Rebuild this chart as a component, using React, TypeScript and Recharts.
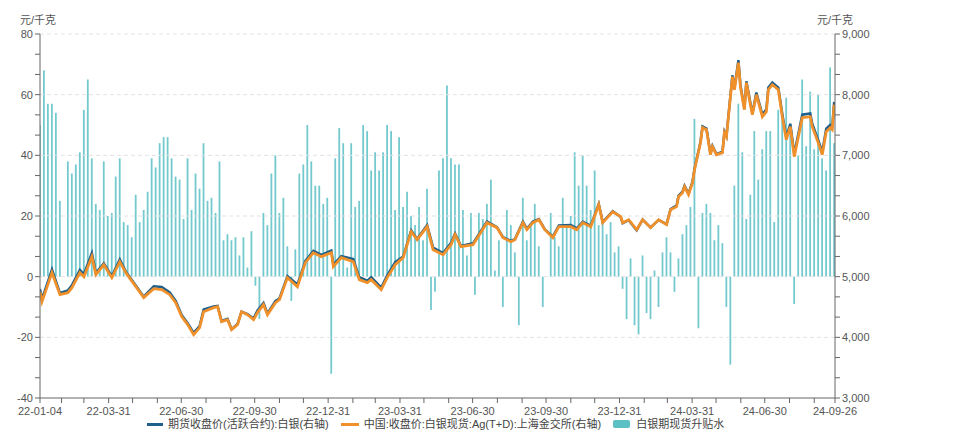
import React from 'react';
import { ComposedChart, Bar, Line, XAxis, YAxis, ReferenceLine } from 'recharts';

// 白银期现货升贴水 (元/千克), one value every 5 calendar days from 2022-01-04
const basisValues = [
  50, 68, 57, 57, 54, 25, 0, 38, 34, 37,
  41, 55, 65, 39, 24, 22, 38, 20, 21, 33,
  39, 18, 17, 13, 27, 18, 22, 28, 39, 36,
  44, 46, 46, 39, 33, 32, 19, 39, 22, 34,
  29, 44, 25, 26, 21, 38, 12, 14, 12, 13,
  7, 13, 3, 15, -3, -14, 21, 17, 34, 40,
  21, 26, 10, -8, 9, 34, 37, 50, 38, 30,
  30, 24, 26, -32, 39, 49, 44, 3, 44, 23,
  25, 50, 48, 35, 41, 35, 41, 50, 48, 22,
  46, 23, 28, 20, 17, 23, 12, 29, -11, -5,
  35, 39, 63, 39, 37, 37, 22, 7, 21, -6,
  21, 19, 24, 32, 2, 12, -10, 22, 17, 8,
  -16, 26, 12, 17, 24, 10, -10, 0, 21, 13,
  10, 26, 17, 20, 41, 30, 40, 30, 22, 35,
  17, 19, 14, 18, 8, 10, -4, -14, 6, -16,
  -19, 7, -12, -14, 2, -10, 8, 13, 8, -5,
  6, 14, 17, 23, 52, -17, 21, 24, 21, 12,
  17, 11, -10, -29, 30, 57, 41, 19, 27, 48,
  32, 42, 48, 48, 18, 55, 54, 59, 50, -9,
  40, 65, 43, 61, 42, 60, 39, 35, 69, 44,
];
const basisStartDate = '2022-01-04';
const basisStepDays = 5;

const lineDates = [
  '2022-01-04', '2022-01-07', '2022-01-20', '2022-01-28', '2022-02-07', '2022-02-14', '2022-02-23', '2022-03-01',
  '2022-03-09', '2022-03-14', '2022-03-24', '2022-04-04', '2022-04-14', '2022-04-22', '2022-05-13', '2022-05-26',
  '2022-06-06', '2022-06-16', '2022-06-24', '2022-07-01', '2022-07-07', '2022-07-15', '2022-07-22', '2022-07-29',
  '2022-08-09', '2022-08-15', '2022-08-19', '2022-08-26', '2022-09-02', '2022-09-08', '2022-09-14', '2022-09-20',
  '2022-09-28', '2022-10-03', '2022-10-10', '2022-10-17', '2022-10-25', '2022-11-01', '2022-11-11', '2022-11-22',
  '2022-12-02', '2022-12-12', '2022-12-23', '2023-01-03', '2023-01-06', '2023-01-16', '2023-01-31', '2023-02-09',
  '2023-02-17', '2023-02-24', '2023-03-08', '2023-03-15', '2023-03-24', '2023-04-03', '2023-04-13', '2023-04-21',
  '2023-05-05', '2023-05-11', '2023-05-24', '2023-06-02', '2023-06-09', '2023-06-16', '2023-06-30', '2023-07-19',
  '2023-07-31', '2023-08-07', '2023-08-16', '2023-08-22', '2023-08-31', '2023-09-07', '2023-09-14', '2023-09-22',
  '2023-09-28', '2023-10-09', '2023-10-17', '2023-10-30', '2023-11-08', '2023-11-15', '2023-11-24', '2023-12-04',
  '2023-12-11', '2023-12-22', '2024-01-02', '2024-01-05', '2024-01-12', '2024-01-22', '2024-01-29', '2024-02-07',
  '2024-02-19', '2024-02-28', '2024-03-05', '2024-03-12', '2024-03-15', '2024-03-19', '2024-03-22', '2024-03-26',
  '2024-04-01', '2024-04-03', '2024-04-10', '2024-04-12', '2024-04-18', '2024-04-22', '2024-04-26', '2024-04-30',
  '2024-05-08', '2024-05-10', '2024-05-14', '2024-05-20', '2024-05-23', '2024-05-24', '2024-05-28', '2024-05-31',
  '2024-06-05', '2024-06-07', '2024-06-11', '2024-06-14', '2024-06-19', '2024-06-26', '2024-07-02', '2024-07-05',
  '2024-07-10', '2024-07-16', '2024-07-22', '2024-07-26', '2024-07-31', '2024-08-05', '2024-08-09', '2024-08-16',
  '2024-08-26', '2024-08-29', '2024-09-04', '2024-09-10', '2024-09-14', '2024-09-19', '2024-09-23', '2024-09-26',
];

// 中国:收盘价:白银现货:Ag(T+D):上海金交所 (元/千克)
const spotValues = [
  4753, 4588, 5066, 4703, 4736, 4819, 5066, 5000,
  5330, 5033, 5198, 4984, 5247, 5066, 4654, 4802,
  4786, 4703, 4571, 4341, 4209, 4044, 4160, 4423,
  4489, 4506, 4258, 4291, 4127, 4209, 4423, 4374,
  4291, 4407, 4539, 4374, 4571, 4621, 4984, 4835,
  5231, 5396, 5330, 5396, 5165, 5313, 5247, 4951,
  4901, 4951, 4786, 4984, 5198, 5313, 5742, 5610,
  5824, 5445, 5363, 5527, 5692, 5494, 5527, 5890,
  5808, 5643, 5577, 5610, 5890, 5775, 5890, 5939,
  5775, 5643, 5824, 5824, 5775, 5890, 5824, 6187,
  5890, 6071, 5989, 5890, 5939, 5775, 5939, 5808,
  5939, 5857, 6104, 6154, 6318, 6384, 6483, 6351,
  6549, 6763, 7208, 7456, 7423, 7011, 7142, 7011,
  7044, 7373, 7307, 8296, 7966, 8082, 8527, 8131,
  7752, 8197, 7835, 7670, 8000, 7637, 7719, 8082,
  8164, 8082, 7637, 7258, 7472, 6978, 7142, 7620,
  7637, 7472, 7208, 7011, 7390, 7456, 7423, 7835,
];

// 期货收盘价(活跃合约):白银 (元/千克)
const futuresValues = [
  4795, 4630, 5120, 4730, 4775, 4860, 5110, 5040,
  5390, 5060, 5220, 5010, 5285, 5085, 4670, 4840,
  4830, 4740, 4600, 4370, 4235, 4075, 4185, 4460,
  4510, 4520, 4270, 4305, 4135, 4220, 4425, 4385,
  4310, 4445, 4565, 4395, 4600, 4640, 5010, 4870,
  5260, 5425, 5360, 5430, 5200, 5340, 5290, 4990,
  4935, 4990, 4820, 5020, 5240, 5330, 5765, 5620,
  5850, 5480, 5390, 5560, 5710, 5505, 5550, 5910,
  5815, 5650, 5590, 5620, 5905, 5790, 5910, 5950,
  5780, 5660, 5845, 5850, 5795, 5905, 5840, 6200,
  5900, 6080, 5985, 5880, 5930, 5765, 5940, 5810,
  5935, 5865, 6115, 6170, 6335, 6400, 6500, 6370,
  6565, 6780, 7225, 7475, 7440, 7030, 7155, 7020,
  7060, 7390, 7315, 8320, 7990, 8110, 8570, 8160,
  7775, 8220, 7865, 7695, 8035, 7670, 7760, 8120,
  8200, 8115, 7680, 7300, 7520, 7025, 7185, 7670,
  7690, 7520, 7250, 7055, 7440, 7500, 7470, 7880,
];

const xLabelDates = [
  '2022-01-04', '2022-03-31', '2022-06-30', '2022-09-30', '2022-12-31', '2023-03-31',
  '2023-06-30', '2023-09-30', '2023-12-31', '2024-03-31', '2024-06-30', '2024-09-26',
];
const leftTickLabels = [-40, -20, 0, 20, 40, 60, 80];
const rightTickLabels = [3000, 4000, 5000, 6000, 7000, 8000, 9000];
const gridValues = [80, 60, 40, 20, 0, -20];

const seriesNames = {
  fut: '期货收盘价(活跃合约):白银(右轴)',
  spot: '中国:收盘价:白银现货:Ag(T+D):上海金交所(右轴)',
  basis: '白银期现货升贴水',
};
const unitText = '元/千克';

const COLORS = { fut: '#1f5f8b', spot: '#f0902a', basis: '#5bbfc4', axis: '#666', text: '#555' };

const DAY_MS = 86400000;
const START = Date.UTC(2022, 0, 4);
const dayOf = (s: string) => {
  const [y, m, d] = s.split('-').map(Number);
  return Math.round((Date.UTC(y, m - 1, d) - START) / DAY_MS);
};
const END_DAY = dayOf(xLabelDates[xLabelDates.length - 1]);

// uniform grid of half-steps so bars and lines share one table
const GRID = basisStepDays / 2;
const rowCount = Math.floor(END_DAY / GRID) + 1;
const rows: any[] = Array.from({ length: rowCount }, (_, i) => ({ t: i * GRID }));
const basisStart = dayOf(basisStartDate);
basisValues.forEach((v, k) => {
  const idx = Math.round((basisStart + k * basisStepDays) / GRID);
  if (rows[idx]) rows[idx].basis = v;
});
lineDates.forEach((d, j) => {
  const idx = Math.min(rowCount - 1, Math.round(dayOf(d) / GRID));
  rows[idx].spot = spotValues[j];
  rows[idx].fut = futuresValues[j];
});

// x ticks: every month end plus first/last date
const xTicks: number[] = [0];
for (let y = 2022; y <= 2024; y++) {
  for (let m = 0; m < 12; m++) {
    const t = Math.round((Date.UTC(y, m + 1, 0) - START) / DAY_MS);
    if (t > 0 && t < END_DAY - 5) xTicks.push(t);
  }
}
xTicks.push(END_DAY);
const xLabelMap: Record<number, string> = {};
xLabelDates.forEach((d) => (xLabelMap[dayOf(d)] = d.slice(2)));

const withMinor = (labels: number[]) => {
  const out: number[] = [];
  labels.forEach((v, i) => {
    out.push(v);
    if (i < labels.length - 1) {
      const step = (labels[i + 1] - v) / 3;
      out.push(v + step, v + 2 * step);
    }
  });
  return out;
};
const leftTicks = withMinor(leftTickLabels);
const rightTicks = withMinor(rightTickLabels);
const isLabel = (v: number, labels: number[]) => labels.some((l) => Math.abs(l - v) < 1e-6);

const FONT = "'Liberation Sans', Arial, 'Noto Sans CJK SC', sans-serif";
const tickStyle = { fontSize: 11, fill: COLORS.text, fontFamily: FONT };

export default function App() {
  return (
    <div style={{ position: 'absolute', left: 0, top: 0, width: 960, height: 444, background: '#fff', fontFamily: FONT }}>
      <ComposedChart width={960} height={444} data={rows} margin={{ top: 34, right: 65, bottom: 26, left: 0 }}>
        {gridValues.map((v) => (
          <ReferenceLine key={v} yAxisId="left" y={v} stroke="#e3e3e3" strokeDasharray="4 3" />
        ))}
        <XAxis
          dataKey="t"
          type="number"
          domain={[0, END_DAY]}
          ticks={xTicks}
          interval={0}
          tickFormatter={(v: number) => xLabelMap[v] ?? ''}
          tick={tickStyle}
          tickSize={5}
          tickMargin={4}
          height={20}
          stroke={COLORS.axis}
          allowDataOverflow
        />
        <YAxis
          yAxisId="left"
          orientation="left"
          width={40}
          domain={[-40, 80]}
          ticks={leftTicks}
          interval={0}
          tickFormatter={(v: number) => (isLabel(v, leftTickLabels) ? String(Math.round(v)) : '')}
          tick={tickStyle}
          tickSize={5}
          stroke={COLORS.axis}
          allowDataOverflow
        />
        <YAxis
          yAxisId="right"
          orientation="right"
          width={60}
          domain={[3000, 9000]}
          ticks={rightTicks}
          interval={0}
          tickFormatter={(v: number) => (isLabel(v, rightTickLabels) ? Math.round(v).toLocaleString('en-US') : '')}
          tick={tickStyle}
          tickSize={5}
          stroke={COLORS.axis}
          allowDataOverflow
        />
        <Bar yAxisId="left" dataKey="basis" fill={COLORS.basis} fillOpacity={0.85} barSize={2} isAnimationActive={false} />
        <Line
          yAxisId="right"
          dataKey="fut"
          type="linear"
          stroke={COLORS.fut}
          strokeWidth={2.5}
          dot={false}
          connectNulls
          isAnimationActive={false}
        />
        <Line
          yAxisId="right"
          dataKey="spot"
          type="linear"
          stroke={COLORS.spot}
          strokeWidth={2.8}
          dot={false}
          connectNulls
          isAnimationActive={false}
        />
      </ComposedChart>
      <div style={{ position: 'absolute', left: 20, top: 15, fontSize: 11, lineHeight: '11px', color: COLORS.text }}>{unitText}</div>
      <div style={{ position: 'absolute', left: 817, top: 15, fontSize: 11, lineHeight: '11px', color: COLORS.text }}>{unitText}</div>
      <div
        style={{
          position: 'absolute',
          left: 147,
          top: 417,
          display: 'flex',
          alignItems: 'center',
          fontSize: 11,
          lineHeight: '14px',
          color: '#444',
          whiteSpace: 'nowrap',
        }}
      >
        <span style={{ display: 'inline-block', width: 16, height: 3, background: COLORS.fut, marginRight: 5 }} />
        <span>{seriesNames.fut}</span>
        <span style={{ display: 'inline-block', width: 18, height: 3, background: COLORS.spot, marginLeft: 12, marginRight: 5 }} />
        <span>{seriesNames.spot}</span>
        <span
          style={{
            display: 'inline-block',
            width: 17,
            height: 8,
            borderRadius: 2,
            background: COLORS.basis,
            marginLeft: 12,
            marginRight: 6,
          }}
        />
        <span>{seriesNames.basis}</span>
      </div>
    </div>
  );
}
